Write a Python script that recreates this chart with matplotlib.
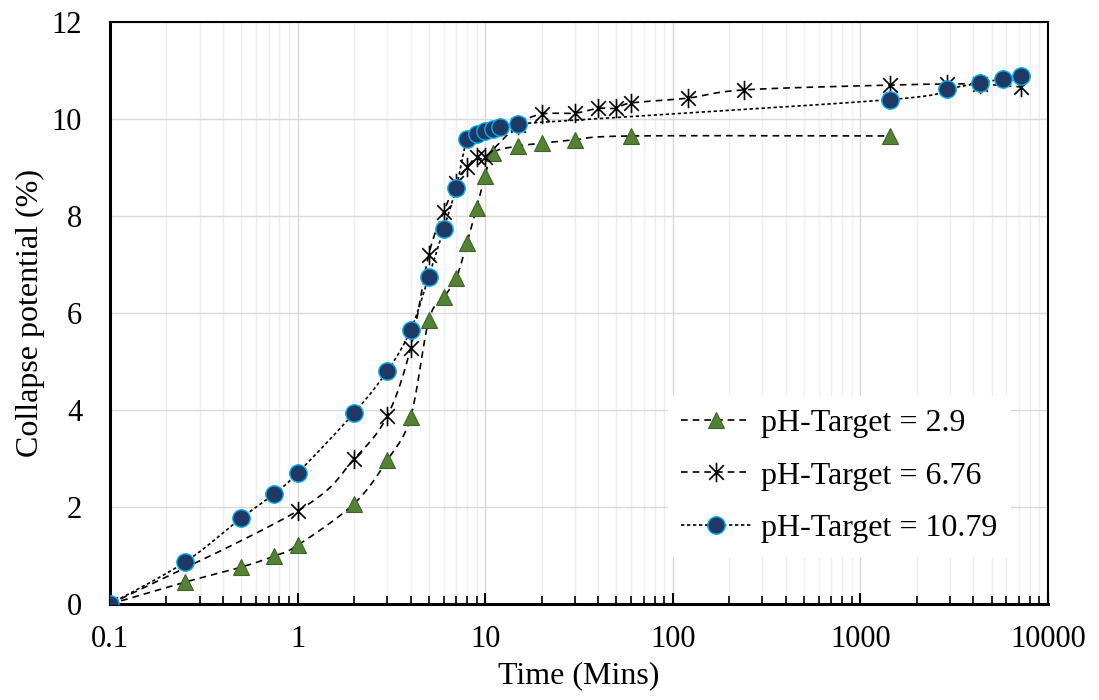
import numpy as np
import matplotlib
matplotlib.use("Agg")
import matplotlib.pyplot as plt
from matplotlib.ticker import LogLocator, FixedLocator, NullFormatter
from matplotlib.lines import Line2D
from matplotlib.path import Path

plt.rcParams['font.family'] = ['Liberation Serif', 'DejaVu Serif']

# ---- data ----
t_a = [0.1, 0.25, 0.5, 0.75, 1, 2, 3, 4, 5, 6, 7, 8, 9, 10, 11, 15, 20, 30, 60, 1440]
cp_a = [0.0, 0.45, 0.76, 0.99, 1.21, 2.07, 2.96, 3.85, 5.85, 6.32, 6.72, 7.45, 8.17, 8.83,
        9.3, 9.44, 9.5, 9.57, 9.65, 9.65]

t_b = [0.1, 1, 2, 3, 4, 5, 6, 7, 8, 9, 10, 15, 20, 30, 40, 50, 60, 120, 240, 1440, 2880, 4320, 7200]
cp_b = [0.0, 1.92, 2.99, 3.87, 5.27, 7.2, 8.08, 8.67, 9.0, 9.22, 9.22, 9.88, 10.1, 10.12,
        10.22, 10.22, 10.33, 10.43, 10.6, 10.7, 10.72, 10.72, 10.66]

t_c = [0.1, 0.25, 0.5, 0.75, 1, 2, 3, 4, 5, 6, 7, 8, 9, 10, 11, 12, 15, 1440, 2880, 4320, 5760, 7200]
cp_c = [0.0, 0.86, 1.77, 2.27, 2.7, 3.94, 4.8, 5.64, 6.75, 7.73, 8.58, 9.59, 9.7, 9.75,
        9.79, 9.83, 9.9, 10.4, 10.62, 10.74, 10.83, 10.88]

labels = ['pH-Target = 2.9', 'pH-Target = 6.76', 'pH-Target = 10.79']
x_ticks = [0.1, 1, 10, 100, 1000, 10000]
x_tick_labels = ['0.1', '1', '10', '100', '1000', '10000']
y_ticks = [0, 2, 4, 6, 8, 10, 12]


def smooth(xs, ys, n=20):
    """Catmull-Rom curve through the points in log-x display space."""
    u = np.log10(np.asarray(xs, float)) * 188.0
    v = np.asarray(ys, float) * 48.5
    P = np.column_stack([u, v])
    P = np.vstack([P[0], P, P[-1]])
    out = []
    for i in range(1, len(P) - 2):
        p0, p1, p2, p3 = P[i - 1], P[i], P[i + 1], P[i + 2]
        c1 = p1 + (p2 - p0) / 6.0
        c2 = p2 - (p3 - p1) / 6.0
        s = np.linspace(0, 1, n)[:, None]
        seg = ((1 - s) ** 3) * p1 + 3 * ((1 - s) ** 2) * s * c1 + 3 * (1 - s) * s ** 2 * c2 + s ** 3 * p2
        out.append(seg if i == 1 else seg[1:])
    out = np.vstack(out)
    return 10 ** (out[:, 0] / 188.0), out[:, 1] / 48.5


# Excel-style star marker: an X plus a vertical bar
STAR = Path([(0, -1), (0, 1), (-0.75, -0.75), (0.75, 0.75), (-0.75, 0.75), (0.75, -0.75)],
            [Path.MOVETO, Path.LINETO, Path.MOVETO, Path.LINETO, Path.MOVETO, Path.LINETO])

fig = plt.figure(figsize=(10.99, 7.0), dpi=100)
ax = fig.add_axes([0.1001, 0.1371, 0.8535, 0.8315])

ax.set_xscale('log')
ax.set_xlim(0.1, 10000)
ax.set_ylim(0, 12)

DASH = (0, (4, 3))
DOT = (0, (2, 1.6))

# series
sx, sy = smooth(t_a, cp_a)
ax.plot(sx, sy, color='black', lw=1.2, ls=DASH, zorder=3)
ax.plot(t_a, cp_a, ls='none', marker='^', ms=12, mfc='#548235', mec='#3f6428', mew=0.8, zorder=4)

sx, sy = smooth(t_b, cp_b)
ax.plot(sx, sy, color='black', lw=1.2, ls=DASH, zorder=5)
ax.plot(t_b, cp_b, ls='none', marker=STAR, ms=14, mfc='none', mec='black', mew=1.2, zorder=6)

sx, sy = smooth(t_c, cp_c)
ax.plot(sx, sy, color='black', lw=1.2, ls=DOT, zorder=7)
ax.plot(t_c, cp_c, ls='none', marker='o', ms=12.5, mfc='#203864', mec='#00b0f0', mew=1.0, zorder=8)

# legend proxies
h1 = Line2D([], [], color='black', lw=1.2, ls=DASH, marker='^', ms=12,
            mfc='#548235', mec='#3f6428', mew=0.8)
h2 = Line2D([], [], color='black', lw=1.2, ls=DASH, marker=STAR, ms=14,
            mfc='none', mec='black', mew=1.2)
h3 = Line2D([], [], color='black', lw=1.2, ls=DOT, marker='o', ms=12.5,
            mfc='#203864', mec='#00b0f0', mew=1.0)
leg = ax.legend([h1, h2, h3], labels, loc='lower right', bbox_to_anchor=(0.9595, 0.083),
                fontsize=23, frameon=True, fancybox=False, framealpha=1,
                edgecolor='white', handlelength=2.2, labelspacing=0.72,
                handletextpad=0.3, borderpad=0.4, borderaxespad=0)
leg.set_zorder(10)

# ticks & grid
ax.xaxis.set_major_locator(FixedLocator(x_ticks))
ax.set_xticklabels(x_tick_labels)
ax.xaxis.set_minor_locator(LogLocator(base=10, subs=np.arange(2, 10), numticks=20))
ax.xaxis.set_minor_formatter(NullFormatter())
ax.set_yticks(y_ticks)

ax.grid(True, which='major', axis='both', color='#d9d9d9', lw=1.0, zorder=0)
ax.grid(True, which='minor', axis='x', color='#eeeeee', lw=1.0, zorder=0)
ax.set_axisbelow(True)

ax.tick_params(axis='x', which='major', direction='in', length=8, width=1.5, labelsize=22, pad=15)
ax.tick_params(axis='x', which='minor', direction='in', length=6, width=1.2)
ax.tick_params(axis='y', which='major', length=0, labelsize=22, pad=20)

for side in ['left', 'bottom']:
    ax.spines[side].set_linewidth(2.2)
for side in ['top', 'right']:
    ax.spines[side].set_linewidth(1.5)

ax.set_xlabel('Time (Mins)', fontsize=23)
ax.set_ylabel('Collapse potential (%)', fontsize=23)
ax.xaxis.set_label_coords(0.5, -0.0988)
ax.yaxis.set_label_coords(-0.0693, 0.5)

fig.savefig('out.png', dpi=100)
